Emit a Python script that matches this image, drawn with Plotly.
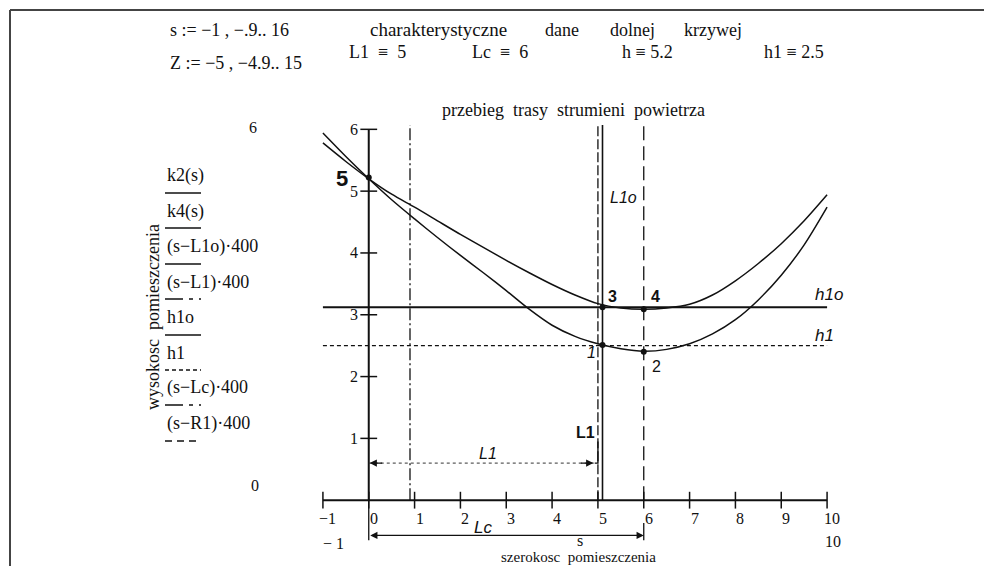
import plotly.graph_objects as go

# ---------------- data ----------------
s_vals = [-1, -0.5, 0, 0.5, 1, 1.5, 2, 2.5, 3, 3.5, 4, 4.5, 5, 5.5, 6, 6.5, 7, 7.5, 8, 8.5, 9, 9.5, 10]
k2_vals = [5.94, 5.56, 5.20, 4.86, 4.55, 4.25, 3.96, 3.68, 3.39, 3.09, 2.83, 2.65, 2.53, 2.45, 2.41,
           2.44, 2.53, 2.69, 2.92, 3.24, 3.64, 4.13, 4.74]
k4_vals = [5.78, 5.48, 5.20, 4.95, 4.74, 4.52, 4.30, 4.09, 3.88, 3.68, 3.49, 3.32, 3.18, 3.11, 3.09,
           3.11, 3.17, 3.32, 3.55, 3.83, 4.15, 4.52, 4.94]

L1 = 5.0
L1o = 5.1
Lc = 6.0
R1 = 0.9
h1 = 2.5
h1o = 3.12

x_ticks = [-1, 0, 1, 2, 3, 4, 5, 6, 7, 8, 9, 10]
x_tick_text = ["\u22121", "0", "1", "2", "3", "4", "5", "6", "7", "8", "9", "10"]
y_ticks = [1, 2, 3, 4, 5, 6]

pt_s = [0, L1o, Lc, L1o, Lc]
pt_y = [5.22, 3.12, 3.09, 2.51, 2.40]

legend_labels = ["k2(s)", "k4(s)", "(s\u2212L1o)\u00b7400", "(s\u2212L1)\u00b7400", "h1o", "h1",
                 "(s\u2212Lc)\u00b7400", "(s\u2212R1)\u00b7400"]
legend_dash = ["solid", "solid", "solid", "18px,6px,4px,6px", "solid", "4px,3px",
               "18px,6px,4px,6px", "7px,5px"]

# ---------------- geometry helpers (pixel -> paper) ----------------
W, H = 984, 566
PL, PR, PT, PB = 300, 850, 125, 562
X_RANGE = [-1.5, 10.5]
Y_RANGE = [-1.0, 6.07]


def X(px):
    return (px - PL) / (PR - PL)


def Y(py):
    return (PB - py) / (PB - PT)


SERIF = "Liberation Serif"
HAND = "Liberation Sans"
BLACK = "#111111"

fig = go.Figure()

# curves
fig.add_trace(go.Scatter(x=s_vals, y=k2_vals, mode="lines",
                         line=dict(color=BLACK, width=1.5, shape="spline", smoothing=0.8)))
fig.add_trace(go.Scatter(x=s_vals, y=k4_vals, mode="lines",
                         line=dict(color=BLACK, width=1.5, shape="spline", smoothing=0.8)))

# horizontal lines h1o, h1
fig.add_trace(go.Scatter(x=[s_vals[0], s_vals[-1]], y=[h1o, h1o], mode="lines",
                         line=dict(color=BLACK, width=2)))
fig.add_trace(go.Scatter(x=[s_vals[0], s_vals[-1]], y=[h1, h1], mode="lines",
                         line=dict(color=BLACK, width=1.2, dash="4px,3px")))

# vertical lines (s-L)*400
ytop = Y_RANGE[1]
fig.add_trace(go.Scatter(x=[R1, R1], y=[0, ytop], mode="lines",
                         line=dict(color=BLACK, width=1.3, dash="12px,3px,2px,3px")))
fig.add_trace(go.Scatter(x=[L1, L1], y=[0, ytop], mode="lines",
                         line=dict(color=BLACK, width=1.3, dash="10px,3px")))
fig.add_trace(go.Scatter(x=[L1o, L1o], y=[0, ytop], mode="lines",
                         line=dict(color=BLACK, width=1.6)))
fig.add_trace(go.Scatter(x=[Lc, Lc], y=[0, ytop], mode="lines",
                         line=dict(color=BLACK, width=1.3, dash="14px,6px")))

# axes
fig.add_trace(go.Scatter(x=[x_ticks[0], x_ticks[-1]], y=[0, 0], mode="lines",
                         line=dict(color=BLACK, width=2)))
fig.add_trace(go.Scatter(x=[0, 0], y=[0, y_ticks[-1]], mode="lines",
                         line=dict(color=BLACK, width=2)))
fig.add_trace(go.Scatter(x=x_ticks, y=[0] * len(x_ticks), mode="markers", cliponaxis=False,
                         marker=dict(symbol="line-ns", size=12, line=dict(color=BLACK, width=1.5))))
fig.add_trace(go.Scatter(x=[0] * len(y_ticks), y=y_ticks, mode="markers", cliponaxis=False,
                         marker=dict(symbol="line-ew", size=12, line=dict(color=BLACK, width=1.5))))

# points
fig.add_trace(go.Scatter(x=pt_s, y=pt_y, mode="markers", cliponaxis=False,
                         marker=dict(color=BLACK, size=6)))

# L1 dimension (dotted, with arrows)
arr_y1 = 0.6
fig.add_trace(go.Scatter(x=[0, 4.93], y=[arr_y1, arr_y1], mode="lines",
                         line=dict(color="#333333", width=1, dash="dot")))
fig.add_trace(go.Scatter(x=[4.93, L1, L1], y=[arr_y1, arr_y1, 0.95], mode="lines",
                         line=dict(color=BLACK, width=1.4)))
# Lc dimension
arr_y2 = -0.57
fig.add_trace(go.Scatter(x=[0, 0], y=[0, -0.65], mode="lines", cliponaxis=False,
                         line=dict(color=BLACK, width=1.3)))
fig.add_trace(go.Scatter(x=[Lc, Lc], y=[-0.37, -0.65], mode="lines",
                         line=dict(color=BLACK, width=1.3)))

ann = []
# arrows
ann.append(dict(x=Lc, y=arr_y2, ax=0, ay=arr_y2, xref="x", yref="y", axref="x", ayref="y",
                showarrow=True, arrowhead=2, arrowside="end+start", arrowsize=1.2,
                arrowwidth=1.2, arrowcolor=BLACK, text=""))
ann.append(dict(x=0.02, y=arr_y1, ax=14, ay=0, xref="x", yref="y",
                showarrow=True, arrowhead=2, arrowsize=1.2, arrowwidth=1.2,
                arrowcolor=BLACK, text=""))
ann.append(dict(x=4.9, y=arr_y1, ax=-14, ay=0, xref="x", yref="y",
                showarrow=True, arrowhead=2, arrowsize=1.2, arrowwidth=1.2,
                arrowcolor=BLACK, text=""))

# x tick labels
for v, t in zip(x_ticks, x_tick_text):
    ann.append(dict(x=v, y=0, xref="x", yref="y", text=t, showarrow=False,
                    xshift=5, yshift=-18, font=dict(family=SERIF, size=16, color=BLACK)))
# y tick labels
for v in y_ticks:
    ann.append(dict(x=0, y=v, xref="x", yref="y", text=str(v), showarrow=False,
                    xanchor="right", xshift=-9, font=dict(family=SERIF, size=16, color=BLACK)))


def txt(px, py, text, size=15, anchor="left", family=SERIF, angle=0, bold=False, italic=False):
    if bold:
        text = "<b>" + text + "</b>"
    if italic:
        text = "<i>" + text + "</i>"
    ann.append(dict(x=X(px), y=Y(py), xref="paper", yref="paper", text=text, showarrow=False,
                    xanchor=anchor, yanchor="middle", textangle=angle,
                    font=dict(family=family, size=size, color=BLACK)))


# header texts
HS = 18
txt(168, 30, "s := \u22121 , \u2212.9.. 16", size=HS)
txt(168, 63, "Z := \u22125 , \u22124.9.. 15", size=HS)
txt(368, 30, "charakterystyczne", size=HS + 1)
txt(543, 30, "dane", size=HS)
txt(608, 30, "dolnej", size=HS)
txt(682, 30, "krzywej", size=HS)
txt(347, 52, "L1  \u2261  5", size=HS)
txt(470, 52, "Lc  \u2261  6", size=HS)
txt(620, 52, "h \u2261 5.2", size=HS)
txt(762, 52, "h1 \u2261 2.5", size=HS)
txt(573, 110, "przebieg  trasy  strumieni  powietrza", size=18, anchor="center")

# range labels
txt(253, 128, "6", size=16, anchor="center")
txt(255, 485, "0", size=16, anchor="center")
txt(333, 543, "\u2212 1", size=16, anchor="center")
txt(833, 541, "10", size=16, anchor="center")

# axis titles
txt(580, 540, "s", size=16, anchor="center")
txt(578, 557, "szerokosc  pomieszczenia", size=15, anchor="center")
txt(153, 317, "wysokosc  pomieszczenia", size=18, anchor="center", angle=-90)

# legend
leg_text_y = [175, 211, 246, 282, 317, 353, 387, 423]
leg_line_y = [193, 228, 264, 299, 335, 370, 405, 441]
shapes = []
for lab, ty, ly, d in zip(legend_labels, leg_text_y, leg_line_y, legend_dash):
    txt(165, ty, lab, size=18)
    shapes.append(dict(type="line", xref="paper", yref="paper", x0=X(165), x1=X(201),
                       y0=Y(ly), y1=Y(ly), line=dict(color=BLACK, width=1.5, dash=d)))

# handwritten labels
txt(342, 178, "5", size=22, anchor="center", family=HAND, bold=True)
txt(612, 296, "3", size=16, anchor="center", family=HAND, bold=True)
txt(655, 296, "4", size=16, anchor="center", family=HAND, bold=True)
txt(591, 352, "1", size=16, anchor="center", family=HAND, italic=True)
txt(656, 366, "2", size=16, anchor="center", family=HAND)
txt(829, 294, "h1o", size=17, anchor="center", family=HAND, italic=True)
txt(824, 335, "h1", size=17, anchor="center", family=HAND, italic=True)
txt(623, 197, "L1o", size=16, anchor="center", family=HAND, italic=True)
txt(585, 432, "L1", size=16, anchor="center", family=HAND, bold=True)
txt(488, 453, "L1", size=16, anchor="center", family=HAND, italic=True)
txt(483, 527, "Lc", size=17, anchor="center", family=HAND, italic=True)

# frame (top + left)
shapes.append(dict(type="line", xref="paper", yref="paper", x0=X(10), x1=X(984),
                   y0=Y(10), y1=Y(10), line=dict(color="#444444", width=2)))
shapes.append(dict(type="line", xref="paper", yref="paper", x0=X(10), x1=X(10),
                   y0=Y(10), y1=Y(566), line=dict(color="#444444", width=2)))

fig.update_layout(
    width=W, height=H,
    margin=dict(l=PL, r=W - PR, t=PT, b=H - PB, pad=0),
    paper_bgcolor="white", plot_bgcolor="white",
    showlegend=False,
    xaxis=dict(range=X_RANGE, visible=False, fixedrange=True),
    yaxis=dict(range=Y_RANGE, visible=False, fixedrange=True),
    annotations=ann,
    shapes=shapes,
)

fig.write_html("out.html")
